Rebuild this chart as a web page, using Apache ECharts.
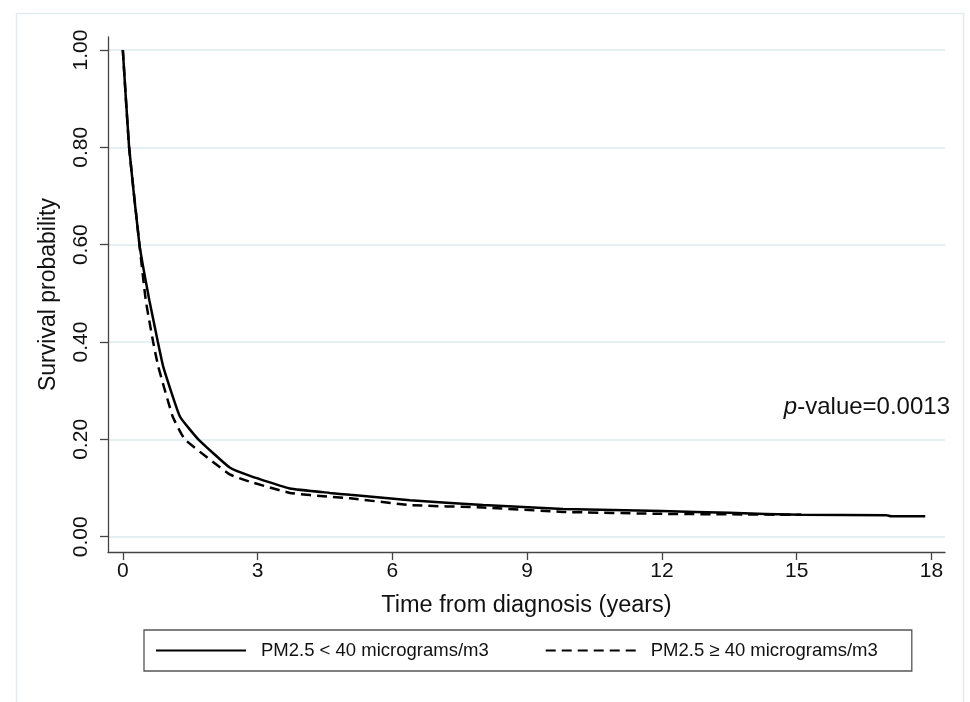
<!DOCTYPE html>
<html>
<head>
<meta charset="utf-8">
<title>Survival by PM2.5</title>
<script src="https://cdn.jsdelivr.net/npm/echarts@6/dist/echarts.min.js"></script>
<style>
    html, body { margin: 0; padding: 0; background: #fff; }
    #survivalChart { width: 970px; height: 702px; }
</style>
</head>
<body>
<div id="survivalChart"></div>
<script>
// 曲线数据
var lowYears  = [0, 0.14, 0.37, 0.59, 0.78, 0.90, 1.27, 1.68, 2.38, 2.83, 3.72, 4.61, 5.06, 6.39, 8.02, 9.80, 12.0, 13.5, 15.1, 17.0, 17.1, 17.86];
var lowSurv   = [1.0, 0.80, 0.60, 0.486, 0.40, 0.349, 0.247, 0.20, 0.142, 0.125, 0.099, 0.090, 0.086, 0.075, 0.065, 0.057, 0.053, 0.049, 0.045, 0.044, 0.042, 0.042];
var highYears = [0, 0.14, 0.37, 0.51, 0.675, 0.79, 1.11, 1.38, 2.38, 2.83, 3.72, 4.61, 5.06, 6.39, 8.02, 9.80, 12.0, 13.5, 15.1];
var highSurv  = [1.0, 0.80, 0.60, 0.486, 0.40, 0.349, 0.247, 0.20, 0.128, 0.113, 0.090, 0.082, 0.079, 0.065, 0.060, 0.051, 0.047, 0.046, 0.045];

var xTicks = [0, 3, 6, 9, 12, 15, 18];
var yTicks = [0, 0.2, 0.4, 0.6, 0.8, 1.0];
var seriesNames = ['PM2.5 < 40 micrograms/m3', 'PM2.5 \u2265 40 micrograms/m3'];
var pValueText = '0.0013';

var fontName = "'Liberation Sans', Arial, sans-serif";

function toPairs(xs, ys) {
    return xs.map(function (x, i) { return [x, ys[i]]; });
}

var myChart = echarts.init(document.getElementById('survivalChart'));

option = {
    backgroundColor: '#fff',
    animation: false,
    textStyle: { fontFamily: fontName },
    title: {
        text: '{i|p}-value=' + pValueText,
        right: 20,
        top: 395,
        padding: 0,
        textStyle: {
            fontFamily: fontName,
            fontSize: 24,
            fontWeight: 'normal',
            color: '#111',
            rich: {
                i: { fontFamily: fontName, fontSize: 24, fontStyle: 'italic', color: '#111' }
            }
        }
    },
    graphic: [
        {
            // 外框
            type: 'rect',
            left: 14,
            top: 11,
            silent: true,
            shape: { width: 947, height: 700 },
            style: { fill: 'none', stroke: '#e2ecef', lineWidth: 1.5 }
        }
    ],
    legend: {
        left: 144,
        top: 630,
        orient: 'horizontal',
        padding: [11, 34, 11, 11],
        itemGap: 56,
        itemWidth: 90,
        itemHeight: 14,
        borderColor: '#555',
        borderWidth: 1.3,
        data: seriesNames,
        itemStyle: { opacity: 0 },
        textStyle: {
            fontFamily: fontName,
            fontSize: 18.5,
            color: '#111',
            padding: [0, 0, 0, 10]
        }
    },
    grid: {
        left: 108,
        right: 25,
        top: 37,
        bottom: 150,
        containLabel: false,
        outerBoundsMode: 'none'
    },
    xAxis: {
        type: 'value',
        min: -0.33,
        max: 18.3,
        name: 'Time from diagnosis (years)',
        nameLocation: 'middle',
        nameGap: 42,
        nameTextStyle: { fontFamily: fontName, fontSize: 23.5, color: '#111' },
        axisLine: { show: true, onZero: false, lineStyle: { color: '#444', width: 1.3 } },
        axisTick: { show: true, customValues: xTicks, length: 8, lineStyle: { color: '#444', width: 1.3 } },
        axisLabel: { customValues: xTicks, fontFamily: fontName, fontSize: 21, color: '#111', margin: 9 },
        splitLine: { show: false }
    },
    yAxis: {
        type: 'value',
        min: -0.0314,
        max: 1.0267,
        name: 'Survival probability',
        nameLocation: 'middle',
        nameGap: 48,
        nameTextStyle: { fontFamily: fontName, fontSize: 23, color: '#111' },
        axisLine: { show: true, onZero: false, lineStyle: { color: '#444', width: 1.3 } },
        axisTick: { show: true, customValues: yTicks, length: 8, lineStyle: { color: '#444', width: 1.3 } },
        axisLabel: {
            customValues: yTicks,
            rotate: 90,
            fontFamily: fontName,
            fontSize: 21,
            color: '#111',
            margin: 16,
            formatter: function (v) { return v.toFixed(2); }
        },
        splitLine: { show: true, lineStyle: { color: '#dcebef', width: 1.5 } }
    },
    series: [
        {
            name: seriesNames[0],
            type: 'line',
            data: toPairs(lowYears, lowSurv),
            symbol: 'none',
            smooth: 0.12,
            itemStyle: { color: '#000' },
            lineStyle: { color: '#000', width: 2.5, type: 'solid' }
        },
        {
            name: seriesNames[1],
            type: 'line',
            data: toPairs(highYears, highSurv),
            symbol: 'none',
            smooth: 0.12,
            itemStyle: { color: '#000' },
            lineStyle: { color: '#000', width: 2.5, type: [10, 6] }
        }
    ]
};

myChart.setOption(option);
</script>
</body>
</html>
